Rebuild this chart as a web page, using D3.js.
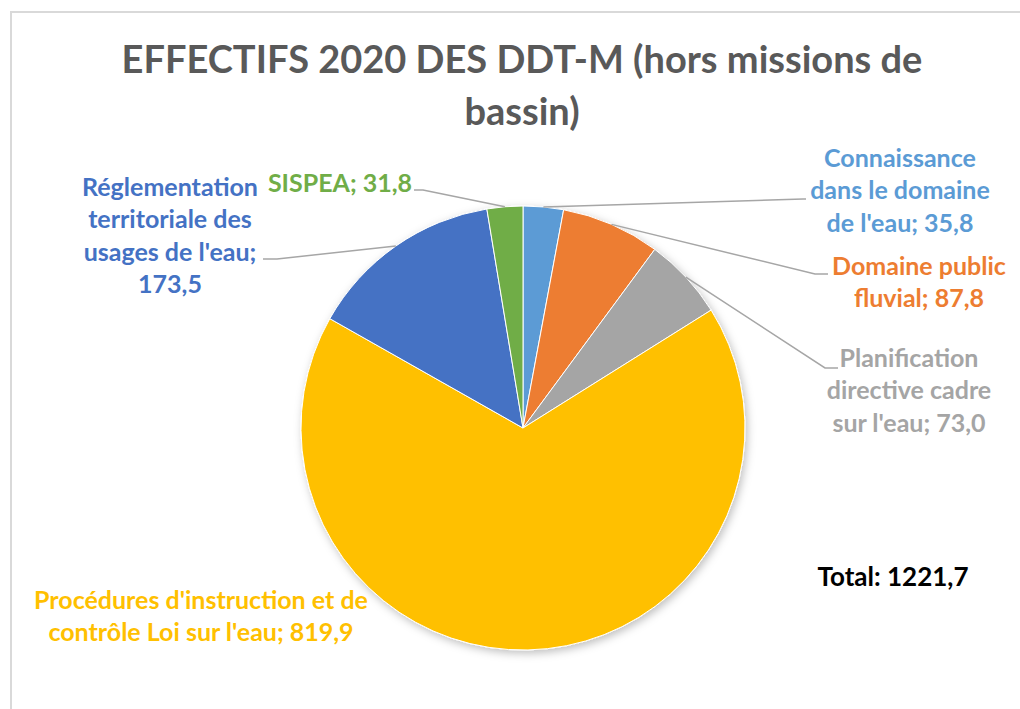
<!DOCTYPE html>
<html>
<head>
<meta charset="utf-8">
<script src="https://cdn.jsdelivr.net/npm/d3@7"></script>
<style>
  body { margin: 0; background: #fff; }
  svg text { font-family: Lato, "Open Sans", sans-serif; font-weight: bold; }
</style>
</head>
<body>
<div id="chart"></div>
<script>
// Data
const categories = [
  "Connaissance dans le domaine de l'eau",
  "Domaine public fluvial",
  "Planification directive cadre sur l'eau",
  "Procédures d'instruction et de contrôle Loi sur l'eau",
  "Réglementation territoriale des usages de l'eau",
  "SISPEA"
];
const values = [35.8, 87.8, 73.0, 819.9, 173.5, 31.8];
const colors = ["#5B9BD5", "#ED7D31", "#A5A5A5", "#FFC000", "#4472C4", "#70AD47"];
const totalValue = 1221.7;
const titleLines = ["EFFECTIFS 2020 DES DDT-M (hors missions de", "bassin)"];

// label layout: words per line, text centre, first line y, leader elbow / end
const labelLayout = [
  { words: [1, 3, 3], x: 900, y: 158, elbow: [803, 199], end: [806, 199] },
  { words: [2, 2], x: 919, y: 266, elbow: [815, 274], end: [828, 274] },
  { words: [1, 2, 3], x: 909, y: 358, elbow: [825, 368], end: [838, 368] },
  { words: [4, 5], x: 201, y: 600, elbow: null, end: null },
  { words: [1, 2, 3, 1], x: 170, y: 187, elbow: [277, 259], end: [263, 259] },
  { words: [2], x: 340, y: 183, elbow: [423, 190], end: [414, 190] }
];

const width = 1020, height = 709;
const cx = 523, cy = 428, radius = 222;
const lineH = 32.5;

const fr = d3.formatLocale({ decimal: ",", thousands: "\u00a0", grouping: [3], currency: ["", " €"] });
const fmt = fr.format(".1f");

const svg = d3.select("#chart").append("svg")
  .attr("width", width)
  .attr("height", height);

// chart area border
svg.append("rect")
  .attr("x", 11).attr("y", 12)
  .attr("width", width + 10).attr("height", height + 10)
  .attr("fill", "#fff")
  .attr("stroke", "#d9d9d9")
  .attr("stroke-width", 2);

const defs = svg.append("defs");
const shadow = defs.append("filter").attr("id", "shadow")
  .attr("x", "-20%").attr("y", "-20%").attr("width", "140%").attr("height", "140%");
shadow.append("feDropShadow")
  .attr("dx", 2).attr("dy", 3)
  .attr("stdDeviation", 4)
  .attr("flood-color", "#000")
  .attr("flood-opacity", 0.25);

// Title
svg.append("g").selectAll("text")
  .data(titleLines)
  .join("text")
  .attr("x", 522)
  .attr("y", (d, i) => 60 + i * 52)
  .attr("dy", "0.35em")
  .attr("text-anchor", "middle")
  .style("font-size", "38px")
  .style("fill", "#595959")
  .text(d => d);

const data = categories.map((c, i) => ({ name: c, value: values[i], color: colors[i], layout: labelLayout[i] }));

const pie = d3.pie().value(d => d.value).sort(null);
const arcs = pie(data);
const arc = d3.arc().innerRadius(0).outerRadius(radius);
const edgeArc = d3.arc().innerRadius(radius).outerRadius(radius);

const g = svg.append("g").attr("transform", `translate(${cx},${cy})`);

g.append("g").attr("filter", "url(#shadow)")
  .selectAll("path")
  .data(arcs)
  .join("path")
  .attr("d", arc)
  .attr("fill", d => d.data.color)
  .attr("stroke", "#fff")
  .attr("stroke-width", 1);

// leader lines
svg.append("g").selectAll("polyline")
  .data(arcs.filter(d => d.data.layout.elbow))
  .join("polyline")
  .attr("points", d => {
    const p = edgeArc.centroid(d);
    const L = d.data.layout;
    return [[cx + p[0], cy + p[1]], L.elbow, L.end].map(q => q.join(",")).join(" ");
  })
  .attr("fill", "none")
  .attr("stroke", "#a6a6a6")
  .attr("stroke-width", 1.5);

// data labels
const labels = svg.append("g").selectAll("text")
  .data(arcs)
  .join("text")
  .attr("text-anchor", "middle")
  .style("font-size", "25px")
  .style("fill", d => d.data.color);

labels.each(function(d) {
  const words = (d.data.name + "; " + fmt(d.data.value)).split(" ");
  const L = d.data.layout;
  let k = 0;
  L.words.forEach((n, i) => {
    d3.select(this).append("tspan")
      .attr("x", L.x)
      .attr("y", L.y + i * lineH)
      .attr("dy", "0.35em")
      .text(words.slice(k, k + n).join(" "));
    k += n;
  });
});

// total
svg.append("text")
  .attr("x", 893)
  .attr("y", 577)
  .attr("dy", "0.35em")
  .attr("text-anchor", "middle")
  .style("font-size", "26px")
  .style("fill", "#000")
  .text("Total: " + fmt(totalValue));
</script>
</body>
</html>
